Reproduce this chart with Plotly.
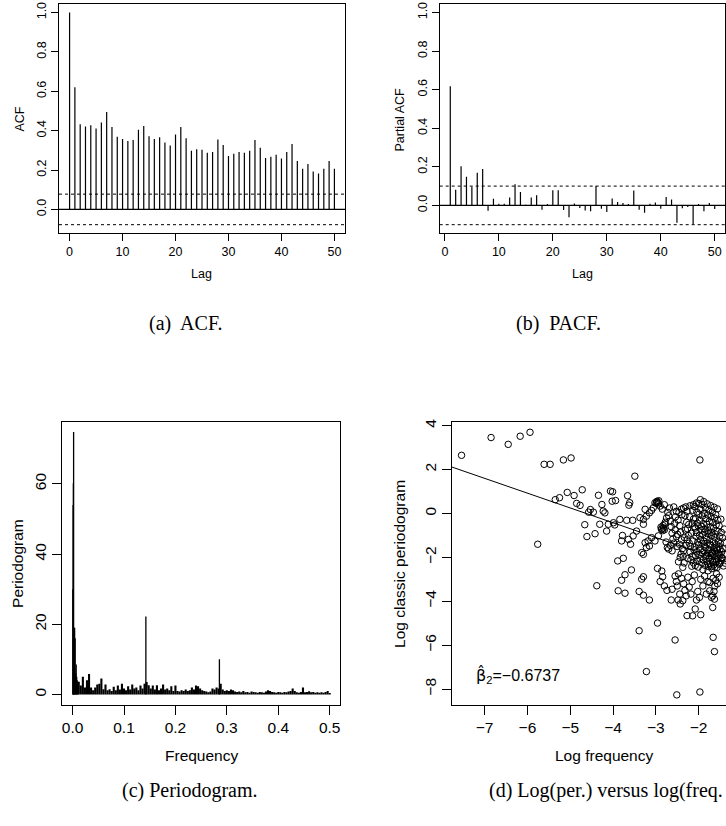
import plotly.graph_objects as go

# ---------------- data ----------------
acf_lags = list(range(0, 51))
acf_vals = [1.000, 0.620, 0.433, 0.421, 0.428, 0.411, 0.441, 0.495, 0.418, 0.369,
            0.357, 0.347, 0.352, 0.404, 0.424, 0.372, 0.357, 0.367, 0.340, 0.325,
            0.380, 0.418, 0.362, 0.298, 0.305, 0.303, 0.288, 0.291, 0.355, 0.327,
            0.271, 0.283, 0.291, 0.288, 0.298, 0.352, 0.313, 0.261, 0.268, 0.278,
            0.259, 0.291, 0.332, 0.246, 0.207, 0.231, 0.192, 0.183, 0.207, 0.246,
            0.207]
acf_ci = 0.0775

pacf_lags = list(range(1, 51))
pacf_vals = [0.618, 0.081, 0.203, 0.148, 0.096, 0.169, 0.188, -0.028, 0.034, 0.009,
             0.009, 0.041, 0.110, 0.069, 0.003, 0.041, 0.052, -0.022, 0.007, 0.079,
             0.079, -0.024, -0.062, 0.010, -0.014, -0.026, -0.031, 0.100, -0.017, -0.034,
             0.036, 0.017, 0.012, 0.007, 0.077, -0.022, -0.038, 0.009, 0.015, -0.017,
             0.043, 0.031, -0.090, -0.015, -0.009, -0.098, 0.007, -0.031, 0.012, -0.019]
pacf_ci = 0.100

# periodogram: isolated spikes + regular grid of ordinates
pg_spike_freq = [0.0005, 0.0010, 0.0015, 0.0020, 0.0025, 0.0030, 0.0040, 0.0050,
                 0.0060, 0.0070, 0.0080, 0.0090, 0.0100, 0.1425, 0.2855]
pg_spike_vals = [30.0, 54.0, 60.2, 74.8, 19.0, 12.0, 19.0, 16.0,
                 6.0, 8.5, 5.0, 4.0, 3.6, 22.2, 10.0]
pg_grid_start = 0.012
pg_grid_step = 0.004
pg_grid_vals = [3.6, 2.5, 5.0, 2.0, 4.0, 5.8, 2.0, 1.2, 2.0, 2.8,
                3.0, 4.5, 1.5, 2.8, 1.2, 1.5, 1.0, 2.2, 1.2, 2.5,
                1.4, 3.0, 1.7, 1.2, 2.3, 1.4, 2.8, 1.7, 2.0, 1.2,
                2.5, 1.7, 3.0, 3.5, 2.6, 1.7, 2.5, 1.4, 2.6, 1.2,
                1.7, 2.8, 1.4, 1.7, 1.2, 2.3, 1.0, 2.5, 1.0, 0.8,
                1.2, 1.0, 1.4, 1.0, 1.2, 2.0, 1.4, 2.5, 2.3, 1.7,
                1.2, 1.0, 0.8, 0.6, 0.8, 1.7, 1.4, 2.0, 1.7, 3.0,
                1.4, 1.0, 1.2, 1.0, 1.4, 1.2, 0.8, 0.7, 0.8, 0.6,
                1.0, 0.6, 0.7, 0.5, 0.8, 0.7, 0.6, 0.5, 0.7, 0.6,
                0.5, 0.8, 1.2, 1.0, 0.7, 0.6, 0.5, 0.7, 0.6, 0.5,
                0.7, 0.6, 0.8, 1.0, 1.7, 1.0, 0.6, 0.5, 0.7, 2.0,
                0.6, 0.7, 0.9, 0.6, 0.7, 0.5, 0.6, 0.5, 0.6, 0.5,
                0.7, 1.0, 0.4]

# log periodogram vs log frequency
log_points = [
    (-7.54, 2.65), (-6.85, 3.46), (-6.45, 3.15), (-6.17, 3.52), (-5.94, 3.70),
    (-5.61, 2.24), (-5.47, 2.24), (-5.16, 2.44), (-4.98, 2.53), (-5.76, -1.40),
    (-5.35, 0.63), (-5.25, 0.72), (-5.07, 0.96), (-4.91, 0.82), (-4.72, 1.08),
    (-4.85, 0.46), (-4.77, 0.37), (-4.57, 0.06), (-4.53, 0.18), (-4.46, 0.06),
    (-4.34, 0.83), (-4.31, -0.49), (-4.66, -0.51), (-4.61, -1.05), (-4.42, -0.92),
    (-4.38, -3.29),
    (-3.49, 1.70), (-4.06, 1.02), (-4.01, 0.99), (-4.26, 0.41), (-4.02, 0.56), (-3.94, 0.59),
    (-3.66, 0.81), (-3.61, 0.49), (-3.63, 0.38), (-4.23, 0.11), (-4.19, 0.03),
    (-4.11, -0.49), (-4.15, -0.80), (-3.99, -0.42), (-3.96, -0.52), (-3.84, -0.27),
    (-3.68, -0.31), (-3.54, -0.31), (-3.78, -1.00), (-3.80, -1.25), (-3.64, -1.18),
    (-3.59, -1.40), (-3.53, -1.02), (-3.45, -0.80), (-3.37, -0.19), (-3.29, -0.27),
    (-3.29, -0.49), (-3.25, 0.19), (-3.22, -0.12), (-3.15, 0.03), (-3.10, 0.14),
    (-3.06, 0.26), (-3.02, 0.49), (-2.98, 0.53), (-2.94, 0.44), (-2.90, 0.34),
    (-3.18, -1.25), (-3.15, -1.48), (-3.25, -1.33), (-3.22, -1.55), (-3.33, -1.78),
    (-3.29, -1.86), (-3.10, -1.10), (-3.02, -1.25), (-2.94, -1.02), (-2.87, -0.72),
    (-2.79, -0.49), (-3.89, -2.16), (-3.76, -2.04), (-3.57, -2.57), (-3.72, -2.79),
    (-3.80, -3.04), (-3.33, -2.99), (-3.29, -2.88), (-3.88, -3.52), (-3.72, -3.63),
    (-3.39, -3.55), (-3.29, -3.72), (-3.15, -3.94), (-3.39, -5.34), (-2.96, -4.99),
    (-3.22, -7.20), (-2.55, -5.76), (-2.51, -8.26), (-1.97, -8.13), (-1.66, -5.64),
    (-1.63, -6.29), (-1.67, -4.28), (-2.27, -4.65), (-2.14, -4.66), (-1.95, -4.61),
    (-2.08, -4.35), (-1.97, 2.44),
    (-2.88, -0.62), (-2.86, -0.70), (-2.84, -0.78), (-2.82, -0.66), (-2.80, -0.74), (-2.83, -0.55),
    (-2.78, -0.40), (-2.75, -0.20), (-2.72, 0.05), (-2.70, -0.10), (-2.68, 0.25), (-2.66, -0.35),
    (-2.64, -0.60), (-2.62, -0.90), (-2.60, -1.15), (-2.76, -1.30), (-2.73, -1.55), (-2.70, -1.62),
    (-2.66, -1.45), (-2.62, -1.70), (-2.58, -1.35), (-2.56, -0.45), (-2.54, -0.15), (-2.52, 0.10),
    (-2.58, 0.30), (-2.55, -0.75), (-2.52, -1.05), (-2.50, -1.50),
    (-2.97, 0.56), (-2.95, 0.50), (-2.93, 0.58), (-2.99, 0.47), (-2.85, 0.20), (-2.80, 0.40),
    (-2.48, -0.30), (-2.46, 0.05), (-2.44, -0.55), (-2.42, -0.85), (-2.40, -1.20), (-2.38, -1.60),
    (-2.36, -1.95), (-2.34, -2.25), (-2.32, -0.10), (-2.30, 0.30), (-2.28, -0.40), (-2.26, -0.70),
    (-2.24, -1.00), (-2.22, -1.35), (-2.20, -1.75), (-2.18, -2.10), (-2.16, -2.40), (-2.14, 0.15),
    (-2.12, -0.25), (-2.10, -0.60), (-2.45, -1.40), (-2.41, -1.85), (-2.37, -2.45), (-2.33, -1.10),
    (-2.29, -1.45), (-2.25, -2.05), (-2.21, -0.15), (-2.17, -0.90), (-2.13, -1.25), (-2.11, -1.65),
    (-2.47, -2.20), (-2.43, -2.00), (-2.39, -0.05), (-2.35, 0.25), (-2.31, -0.75), (-2.27, -1.20),
    (-2.23, -0.50), (-2.19, -1.50), (-2.15, -1.95), (-2.12, -2.25), (-2.49, -0.95), (-2.35, -1.70),
    (-2.27, 0.10), (-2.20, 0.35), (-2.15, -0.45), (-2.40, 0.20), (-2.05, 0.48), (-2.12, 0.40),
    (-2.09, 0.31), (-2.07, -0.22), (-2.08, -0.66), (-2.06, -1.04), (-2.09, -1.52), (-2.07, -1.93), (-2.08, -2.37),
    (-2.04, 0.07), (-2.03, -0.44), (-2.05, -0.87), (-2.02, -1.31), (-2.04, -1.74), (-2.03, -2.17),
    (-2.00, 0.46), (-1.99, -0.03), (-2.01, -0.56), (-1.98, -0.99), (-2.00, -1.42), (-1.99, -1.86), (-2.01, -2.44),
    (-1.96, 0.63), (-1.95, 0.19), (-1.97, -0.31), (-1.94, -0.76), (-1.96, -1.19), (-1.95, -1.61), (-1.97, -2.06),
    (-1.92, 0.41), (-1.91, -0.11), (-1.93, -0.59), (-1.90, -0.96), (-1.92, -1.36), (-1.91, -1.79), (-1.93, -2.24), (-1.90, -2.56),
    (-1.88, 0.54), (-1.87, 0.01), (-1.89, -0.46), (-1.86, -0.84), (-1.88, -1.26), (-1.87, -1.69), (-1.89, -2.11),
    (-1.84, 0.26), (-1.83, -0.24), (-1.85, -0.71), (-1.82, -1.11), (-1.84, -1.54), (-1.83, -1.96), (-1.85, -2.36),
    (-1.80, 0.44), (-1.79, -0.06), (-1.81, -0.49), (-1.78, -0.91), (-1.80, -1.34), (-1.79, -1.81), (-1.81, -2.19), (-1.78, -2.61),
    (-1.76, 0.16), (-1.75, -0.36), (-1.77, -0.79), (-1.74, -1.21), (-1.76, -1.64), (-1.75, -2.04), (-1.77, -2.41),
    (-1.72, 0.36), (-1.71, -0.14), (-1.73, -0.61), (-1.70, -1.01), (-1.72, -1.44), (-1.71, -1.91), (-1.73, -2.29),
    (-1.68, 0.06), (-1.67, -0.41), (-1.69, -0.86), (-1.66, -1.29), (-1.68, -1.76), (-1.67, -2.14), (-1.69, -2.51),
    (-1.64, 0.29), (-1.63, -0.21), (-1.65, -0.66), (-1.62, -1.09), (-1.64, -1.56), (-1.63, -1.94), (-1.65, -2.34),
    (-1.60, -0.04), (-1.59, -0.51), (-1.61, -0.94), (-1.58, -1.41), (-1.60, -1.81), (-1.59, -2.21),
    (-1.56, 0.21), (-1.55, -0.31), (-1.57, -0.79), (-1.54, -1.26), (-1.56, -1.66), (-1.55, -2.06), (-1.57, -2.46),
    (-1.52, -0.56), (-1.51, -1.04), (-1.53, -1.51), (-1.50, -1.89), (-1.52, -2.31),
    (-1.48, -0.26), (-1.47, -0.86), (-1.49, -1.36), (-1.46, -1.74), (-1.48, -2.16),
    (-1.44, -1.11), (-1.43, -1.61), (-1.45, -2.01), (-1.42, -2.39),
    (-1.40, -0.71), (-1.39, -1.31), (-1.41, -1.86), (-1.38, -2.26),
    (-1.86, -1.48), (-1.82, -1.90), (-1.78, -2.30), (-1.74, -1.42), (-1.70, -1.82), (-1.66, -2.22),
    (-1.62, -1.72), (-1.58, -2.12), (-1.54, -1.84), (-1.50, -2.26), (-1.46, -2.04), (-1.62, -2.44),
    (-1.70, -2.42), (-1.58, -1.60), (-1.50, -1.62),
    (-2.96, -2.50), (-2.86, -2.62), (-2.84, -2.88), (-2.90, -3.10), (-2.80, -3.30), (-2.74, -3.50),
    (-2.64, -3.94), (-2.62, -3.45), (-2.55, -2.85), (-2.52, -3.10), (-2.50, -3.30), (-2.47, -2.75),
    (-2.44, -3.67), (-2.48, -3.94), (-2.43, -4.12), (-2.37, -3.97), (-2.40, -2.95), (-2.35, -3.20),
    (-2.32, -3.50), (-2.29, -3.75), (-2.25, -2.90), (-2.22, -3.35), (-2.18, -3.67), (-2.15, -3.10),
    (-2.10, -2.80), (-2.05, -3.94), (-2.02, -3.55), (-1.98, -3.82), (-1.95, -3.00), (-1.90, -3.30),
    (-1.86, -2.85), (-1.82, -3.67), (-1.78, -3.10), (-1.74, -3.52), (-1.70, -3.82), (-1.67, -3.75),
    (-1.74, -3.14), (-1.66, -2.95), (-1.62, -3.30), (-1.60, -3.05), (-1.64, -3.55), (-1.58, -2.75),
    (-1.56, -3.20), (-1.52, -2.90), (-1.63, -3.90),
]
log_freq = [p[0] for p in log_points]
log_pgram = [p[1] for p in log_points]
fit_intercept = -3.115
fit_slope = -0.6737

# ---------------- layout helpers ----------------
W, H = 726, 826
def fx(p):
    return p / W
def fy(p):
    return 1 - p / H

SANS = "Liberation Sans, Arial, sans-serif"
SERIF = "Liberation Serif, Times New Roman, serif"

def stems(xs, ys):
    sx, sy = [], []
    for a, b in zip(xs, ys):
        sx += [a, a, None]
        sy += [0, b, None]
    return sx, sy

fig = go.Figure()

# (a) ACF
sx, sy = stems(acf_lags, acf_vals)
fig.add_trace(go.Scatter(x=sx, y=sy, mode="lines", line=dict(color="black", width=1.2),
                         xaxis="x", yaxis="y", hoverinfo="skip", showlegend=False))
# (b) PACF
sx, sy = stems(pacf_lags, pacf_vals)
fig.add_trace(go.Scatter(x=sx, y=sy, mode="lines", line=dict(color="black", width=1.2),
                         xaxis="x2", yaxis="y2", hoverinfo="skip", showlegend=False))
# (c) periodogram
grid_freq = [round(pg_grid_start + pg_grid_step * i, 4) for i in range(len(pg_grid_vals))]
sx, sy = stems(grid_freq, pg_grid_vals)
fig.add_trace(go.Scatter(x=sx, y=sy, mode="lines", line=dict(color="black", width=2.1),
                         xaxis="x3", yaxis="y3", hoverinfo="skip", showlegend=False))
sx, sy = stems(pg_spike_freq, pg_spike_vals)
fig.add_trace(go.Scatter(x=sx, y=sy, mode="lines", line=dict(color="black", width=1.3),
                         xaxis="x3", yaxis="y3", hoverinfo="skip", showlegend=False))
# (d) log-log scatter
fig.add_trace(go.Scatter(x=log_freq, y=log_pgram, mode="markers",
                         marker=dict(symbol="circle-open", size=6.5, color="black",
                                     line=dict(color="black", width=1)),
                         xaxis="x4", yaxis="y4", hoverinfo="skip", showlegend=False))
x4_range = [-7.77, -1.36]
line_x = [x4_range[0] - 0.2, x4_range[1] + 0.5]
line_y = [fit_intercept + fit_slope * v for v in line_x]
fig.add_trace(go.Scatter(x=line_x, y=line_y, mode="lines", line=dict(color="black", width=1),
                         xaxis="x4", yaxis="y4", hoverinfo="skip", showlegend=False))


def axis(domain, rng, tickvals, ticktext, size, ticklen, anchor, angle=0, mirror=True):
    return dict(domain=domain, range=rng, tickmode="array", tickvals=tickvals, ticktext=ticktext,
                ticks="outside", ticklen=ticklen, tickwidth=1, tickcolor="black",
                showline=True, linecolor="black", linewidth=1, mirror=mirror,
                showgrid=False, zeroline=False, anchor=anchor, tickangle=angle,
                tickfont=dict(family=SANS, size=size, color="black"), fixedrange=True)

top_y = [fy(231), fy(1)]
bot_y = [fy(704.3), fy(420.7)]

lag_ticks = [0, 10, 20, 30, 40, 50]
acf_ticks = [0.0, 0.2, 0.4, 0.6, 0.8, 1.0]
acf_tt = ["0.0", "0.2", "0.4", "0.6", "0.8", "1.0"]
fr_ticks = [0.0, 0.1, 0.2, 0.3, 0.4, 0.5]
fr_tt = ["0.0", "0.1", "0.2", "0.3", "0.4", "0.5"]
pg_ticks = [0, 20, 40, 60]
lf_ticks = [-7, -6, -5, -4, -3, -2]
lf_tt = ["\u22127", "\u22126", "\u22125", "\u22124", "\u22123", "\u22122"]
lp_ticks = [-8, -6, -4, -2, 0, 2, 4]
lp_tt = ["\u22128", "\u22126", "\u22124", "\u22122", "0", "2", "4"]

fig.update_layout(
    width=W, height=H, margin=dict(l=0, r=0, t=0, b=0),
    paper_bgcolor="white", plot_bgcolor="white", showlegend=False,
    xaxis=axis([fx(59), fx(345)], [-2, 52], lag_ticks, [str(v) for v in lag_ticks], 12.5, 7, "y"),
    yaxis=axis(top_y, [-0.1206, 1.0431], acf_ticks, acf_tt, 12.5, 7, "x", angle=-90),
    xaxis2=axis([fx(439.7), fx(725.3)], [-0.96, 51.96], lag_ticks, [str(v) for v in lag_ticks], 12.5, 7, "y2"),
    yaxis2=axis(top_y, [-0.144, 1.044], acf_ticks, acf_tt, 12.5, 7, "x2", angle=-90),
    xaxis3=axis([fx(62.3), fx(340)], [-0.02, 0.52], fr_ticks, fr_tt, 15.5, 9, "y3"),
    yaxis3=axis(bot_y, [-2.95, 77.6], pg_ticks, [str(v) for v in pg_ticks], 15.5, 9, "x3", angle=-90),
    xaxis4=axis([fx(451.7), 1.0], x4_range, lf_ticks, lf_tt, 15.5, 9, "y4"),
    yaxis4=axis(bot_y, [-8.71, 4.16], lp_ticks, lp_tt, 15.5, 9, "x4", angle=-90, mirror=False),
)

# reference lines on ACF / PACF
shapes = []
for xr, yr, ci in (("x domain", "y", acf_ci), ("x2 domain", "y2", pacf_ci)):
    shapes.append(dict(type="line", xref=xr, yref=yr, x0=0, x1=1, y0=0, y1=0,
                       line=dict(color="black", width=1.2)))
    for v in (ci, -ci):
        shapes.append(dict(type="line", xref=xr, yref=yr, x0=0, x1=1, y0=v, y1=v,
                           line=dict(color="black", width=1, dash="3px,3px")))
fig.update_layout(shapes=shapes)

ann = []
def label(text, x, y, size, angle=0, family=SANS, xanchor="center"):
    ann.append(dict(text=text, x=fx(x), y=fy(y), xref="paper", yref="paper",
                    showarrow=False, textangle=angle, xanchor=xanchor, yanchor="middle",
                    font=dict(family=family, size=size, color="black")))

label("ACF", 20, 117, 12.5, angle=-90)
label("Lag", 202, 272, 12.5)
label("Partial ACF", 400, 117, 12.5, angle=-90)
label("Lag", 582, 272, 12.5)
label("Periodogram", 18, 563, 15.5, angle=-90)
label("Frequency", 201, 755, 15.5)
label("Log classic periodogram", 400, 563, 15.5, angle=-90)
label("Log frequency", 604, 755, 15.5)
label("(a)  ACF.", 186, 322, 20, family=SERIF)
label("(b)  PACF.", 558, 322, 20, family=SERIF)
label("(c) Periodogram.", 190, 790, 20, family=SERIF)
label("(d) Log(per.) versus log(freq.", 725, 790, 20, family=SERIF, xanchor="right")

# beta-hat label (combining circumflex on beta, rendered with DejaVu for proper mark placement)
ann.append(dict(text="<span style='font-family:DejaVu Sans'>\u03b2\u0302</span><sub>2</sub>=\u22120.6737",
                x=-7.24, y=-7.40, xref="x4", yref="y4",
                showarrow=False, xanchor="left", yanchor="middle",
                font=dict(family=SANS, size=16, color="black")))
fig.update_layout(annotations=ann)

fig.write_html("out.html",
               config={"displayModeBar": False},
               post_script="document.body.style.margin='0px';document.body.style.padding='0px';"
                           "document.documentElement.style.overflow='hidden';")
